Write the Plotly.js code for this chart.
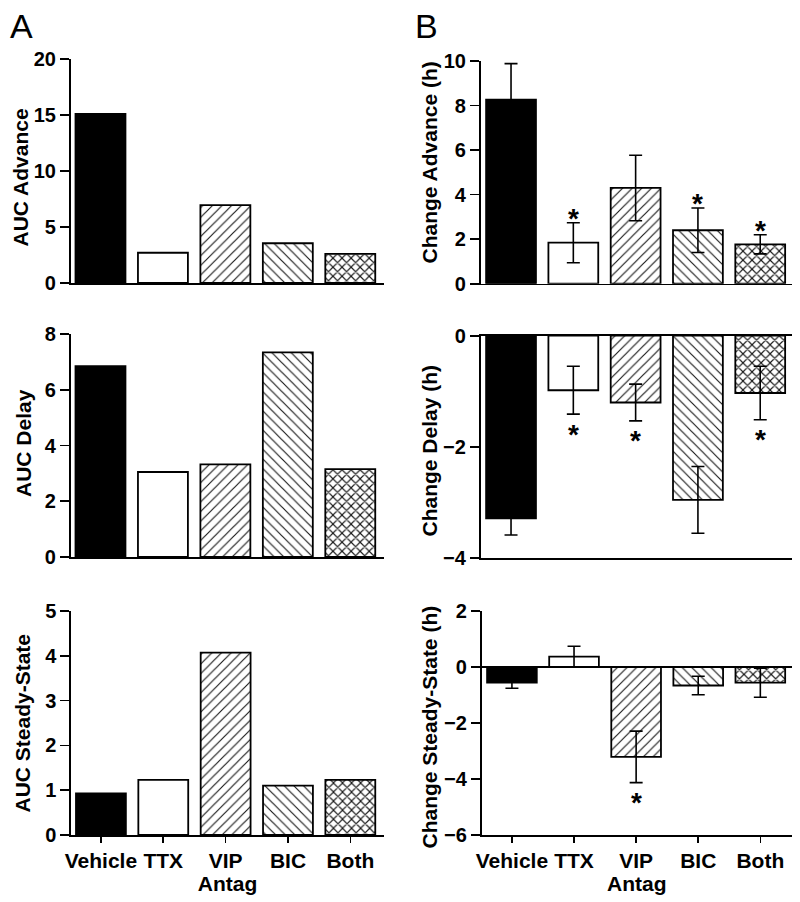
<!DOCTYPE html>
<html><head><meta charset="utf-8">
<script src="https://cdn.plot.ly/plotly-3.0.1.min.js"></script>
<style>html,body{margin:0;padding:0;background:#fff}</style>
</head><body>
<div id="chart" style="width:800px;height:902px"></div>
<script>
// ---------- data ----------
const categories = ['Vehicle', 'TTX', 'VIP', 'BIC', 'Both'];
const aucAdvance = [15.1, 2.7, 6.95, 3.55, 2.6];
const aucDelay = [6.85, 3.05, 3.32, 7.34, 3.15];
const aucSteady = [0.93, 1.23, 4.07, 1.1, 1.23];
const chgAdvance = [8.26, 1.84, 4.3, 2.4, 1.77];
const chgAdvanceErr = [1.62, 0.9, 1.47, 1.0, 0.43];
const chgDelay = [-3.28, -0.98, -1.2, -2.95, -1.03];
const chgDelayErr = [0.3, 0.43, 0.33, 0.6, 0.48];
const chgSteady = [-0.56, 0.37, -3.21, -0.66, -0.56];
const chgSteadyErr = [0.2, 0.37, 0.92, 0.33, 0.52];
const sigAdvance = [false, true, false, true, true];
const sigDelay = [false, true, true, false, true];
const sigSteady = [false, false, true, false, false];
const yTitlesA = ['AUC Advance', 'AUC Delay', 'AUC Steady-State'];
const yTitlesB = ['Change Advance (h)', 'Change Delay (h)', 'Change Steady-State (h)'];
const xTitle = 'Antag';

// ---------- style ----------
const FONT = 'Liberation Sans, Arial, Helvetica, sans-serif';
const solidMask = [true, false, false, false, false];   // which bars are filled black
const patShapes = ['', '', '/', '\\', 'x'];
const patSizes = [6.8, 6.8, 6.8, 6.8, 6.4];
const patSolidity = [0.17, 0.17, 0.17, 0.17, 0.32];
const idx = categories.map((_, i) => i);
const W = 800, H = 902;
const px = v => v / W;
const py = v => 1 - v / H;

function barTraces(y, err, n) {
  const xa = 'x' + (n === 1 ? '' : n), ya = 'y' + (n === 1 ? '' : n);
  const pick = (arr, want) => arr.map((v, i) => (solidMask[i] === want ? v : null));
  const mk = (solid) => {
    const t = {
      type: 'bar', x: idx, y: pick(y, solid), width: 0.8, xaxis: xa, yaxis: ya,
      marker: solid
        ? { color: '#000', line: { color: '#000', width: 1.8 } }
        : { color: '#fff', line: { color: '#000', width: 1.8 },
            pattern: { shape: patShapes, fillmode: 'replace', fgcolor: '#1a1a1a', bgcolor: '#fff',
                       size: patSizes, solidity: patSolidity } },
      hoverinfo: 'skip', showlegend: false
    };
    if (err) {
      t.error_y = { type: 'data', array: pick(err, solid).map(v => (v === null ? 0 : v)), visible: true,
                    color: '#000', thickness: 1.6, width: 6.5 };
    }
    return t;
  };
  return [mk(true), mk(false)];
}

const data = [].concat(
  barTraces(aucAdvance, null, 1),
  barTraces(chgAdvance, chgAdvanceErr, 2),
  barTraces(aucDelay, null, 3),
  barTraces(chgDelay, chgDelayErr, 4),
  barTraces(aucSteady, null, 5),
  barTraces(chgSteady, chgSteadyErr, 6)
);

const tickFont = { family: FONT, size: 20, color: '#000', weight: 'bold' };
const labFont = { family: FONT, size: 21, color: '#000', weight: 'bold' };

function xAx(dom, range, anchor, bottom, extra) {
  const a = {
    domain: [px(dom[0]), px(dom[1])], range: range, anchor: anchor,
    showline: true, linecolor: '#000', linewidth: 1.6, showgrid: false, zeroline: false,
    tickvals: idx, ticktext: categories, fixedrange: true,
    showticklabels: !!bottom, ticks: bottom ? 'outside' : '', ticklen: 6, tickwidth: 1.6,
    tickcolor: '#000', tickfont: labFont
  };
  if (bottom) a.title = { text: xTitle, font: labFont, standoff: 0 };
  return Object.assign(a, extra || {});
}
function yAx(dom, range, dtick, anchor, extra) {
  return Object.assign({
    domain: [py(dom[1]), py(dom[0])], range: range, anchor: anchor, dtick: dtick, tick0: 0,
    showline: true, linecolor: '#000', linewidth: 1.6, showgrid: false, zeroline: false,
    ticks: 'outside', ticklen: 9, tickwidth: 1.6, tickcolor: '#000', tickfont: tickFont,
    fixedrange: true
  }, extra || {});
}

const xrA = [-0.48, 4.54];
const xrB = [-0.49, 4.51];

const layout = {
  width: W, height: H, margin: { l: 0, r: 0, t: 0, b: 0 },
  paper_bgcolor: '#fff', plot_bgcolor: 'rgba(0,0,0,0)',
  showlegend: false, barmode: 'overlay',
  font: { family: FONT, color: '#000' },
  xaxis: xAx([70.5, 384], xrA, 'y', false),
  yaxis: yAx([59, 283], [0, 20], 5, 'x'),
  xaxis2: xAx([480.5, 792], xrB, 'y2', false),
  yaxis2: yAx([61, 283.7], [0, 10], 2, 'x2'),
  xaxis3: xAx([70.5, 384], xrA, 'y3', false),
  yaxis3: yAx([334, 557], [0, 8], 2, 'x3'),
  xaxis4: xAx([480.5, 792], xrB, 'y4', false, { mirror: true }),
  yaxis4: yAx([335.7, 558.3], [-4, 0], 2, 'x4'),
  xaxis5: xAx([71, 384], xrA, 'y5', true),
  yaxis5: yAx([611, 835], [0, 5], 1, 'x5'),
  xaxis6: xAx([481.5, 792], xrB, 'y6', true),
  yaxis6: yAx([611, 835], [-6, 2], 2, 'x6', { zeroline: true, zerolinecolor: '#000', zerolinewidth: 1.6 }),
  annotations: []
};

// panel letters
layout.annotations.push({ xref: 'paper', yref: 'paper', x: px(8), y: py(5), xanchor: 'left', yanchor: 'top',
  text: 'A', showarrow: false, font: { family: FONT, size: 34, color: '#000' } });
layout.annotations.push({ xref: 'paper', yref: 'paper', x: px(413), y: py(5), xanchor: 'left', yanchor: 'top',
  text: 'B', showarrow: false, font: { family: FONT, size: 34, color: '#000' } });

// y titles
const aTitleX = [20.5, 23, 21.5], aTitleY = [178, 443, 723];
const bTitleX = [429, 428.5, 429], bTitleY = [162.5, 451, 727.5];
yTitlesA.forEach((t, i) => layout.annotations.push({ xref: 'paper', yref: 'paper', x: px(aTitleX[i]), y: py(aTitleY[i]),
  xanchor: 'center', yanchor: 'middle', textangle: -90, text: t, showarrow: false, font: labFont }));
yTitlesB.forEach((t, i) => layout.annotations.push({ xref: 'paper', yref: 'paper', x: px(bTitleX[i]), y: py(bTitleY[i]),
  xanchor: 'center', yanchor: 'middle', textangle: -90, text: t, showarrow: false, font: labFont }));

// significance asterisks, placed from the data + error values
function stars(vals, errs, sig, n) {
  sig.forEach((s, i) => {
    if (!s) return;
    const up = vals[i] >= 0;
    layout.annotations.push({
      xref: 'x' + n, yref: 'y' + n, x: i, y: up ? vals[i] + errs[i] : vals[i] - errs[i],
      text: '*', showarrow: false, xanchor: 'center', yanchor: 'middle',
      yshift: up ? 4 : -20,
      font: { family: FONT, size: 28, color: '#000', weight: 'bold' }
    });
  });
}
stars(chgAdvance, chgAdvanceErr, sigAdvance, 2);
stars(chgDelay, chgDelayErr, sigDelay, 4);
stars(chgSteady, chgSteadyErr, sigSteady, 6);

Plotly.newPlot('chart', data, layout, { staticPlot: true, displayModeBar: false });
</script>
</body></html>
